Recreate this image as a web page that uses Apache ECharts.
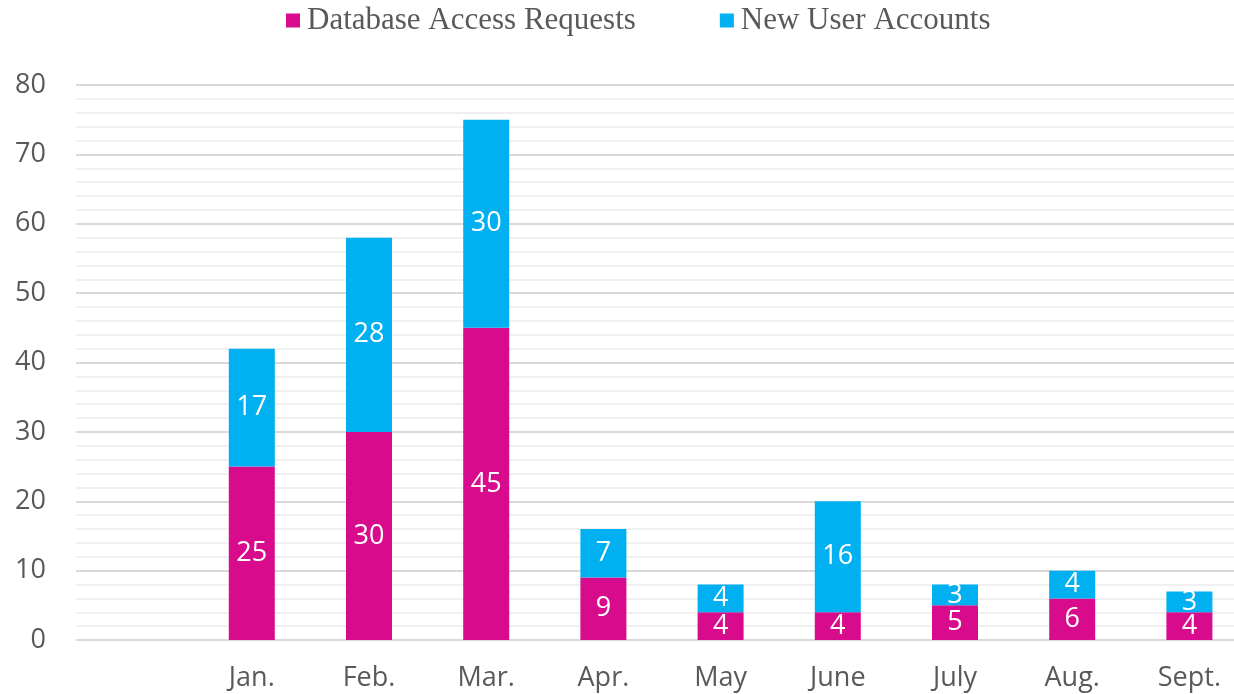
<!DOCTYPE html>
<html>
<head>
<meta charset="utf-8">
<script src="https://cdn.jsdelivr.net/npm/echarts@6/dist/echarts.min.js"></script>
<style>
	html, body { margin: 0; padding: 0; background: #fff; overflow: hidden; }
	#main { width: 1248px; height: 694px; }
</style>
</head>
<body>
<div id="main"></div>
<script>
// months (first slot is empty in the original chart)
var months = ['', 'Jan.', 'Feb.', 'Mar.', 'Apr.', 'May', 'June', 'July', 'Aug.', 'Sept.'];
var dbRequests = ['-', 25, 30, 45, 9, 4, 4, 5, 6, 4];
var newAccounts = ['-', 17, 28, 30, 7, 4, 16, 3, 4, 3];
var yTicks = [0, 10, 20, 30, 40, 50, 60, 70, 80];

var chart = echarts.init(document.getElementById('main'));

var labelStyle = {
	show: true,
	position: 'inside',
	color: '#ffffff',
	fontSize: 27,
	fontFamily: 'Open Sans'
};

chart.setOption({
	animation: false,
	legend: {
		data: ['Database Access Requests', 'New User Accounts'],
		top: 0,
		left: 281,
		itemWidth: 14,
		itemHeight: 14,
		itemGap: 84,
		icon: 'rect',
		textStyle: {
			fontFamily: 'Liberation Serif',
			fontSize: 31,
			color: '#595959',
			padding: [0, 0, 0, 2]
		}
	},
	grid: {
		left: 76,
		right: 0,
		top: 85,
		bottom: 54
	},
	xAxis: [{
		type: 'category',
		data: months,
		axisLine: { show: false },
		axisTick: { show: false },
		axisLabel: {
			fontSize: 27,
			fontFamily: 'Open Sans',
			color: '#595959',
			margin: 25
		}
	}],
	yAxis: [{
		type: 'value',
		min: yTicks[0],
		max: yTicks[yTicks.length - 1],
		interval: 10,
		axisLine: { show: false },
		axisTick: { show: false },
		axisLabel: {
			fontSize: 27,
			fontFamily: 'Open Sans',
			color: '#595959',
			margin: 30
		},
		splitLine: {
			lineStyle: { color: '#d9d9d9', width: 2 }
		},
		minorTick: { show: false, splitNumber: 5 },
		minorSplitLine: {
			show: true,
			lineStyle: { color: '#f0f0f0', width: 2 }
		}
	}],
	series: [{
		name: 'Database Access Requests',
		type: 'bar',
		stack: 'total',
		barWidth: 46,
		data: dbRequests,
		label: labelStyle,
		itemStyle: { color: '#D80B8C' }
	}, {
		name: 'New User Accounts',
		type: 'bar',
		stack: 'total',
		barWidth: 46,
		data: newAccounts,
		label: labelStyle,
		itemStyle: { color: '#00B0F0' }
	}]
});
</script>
</body>
</html>
